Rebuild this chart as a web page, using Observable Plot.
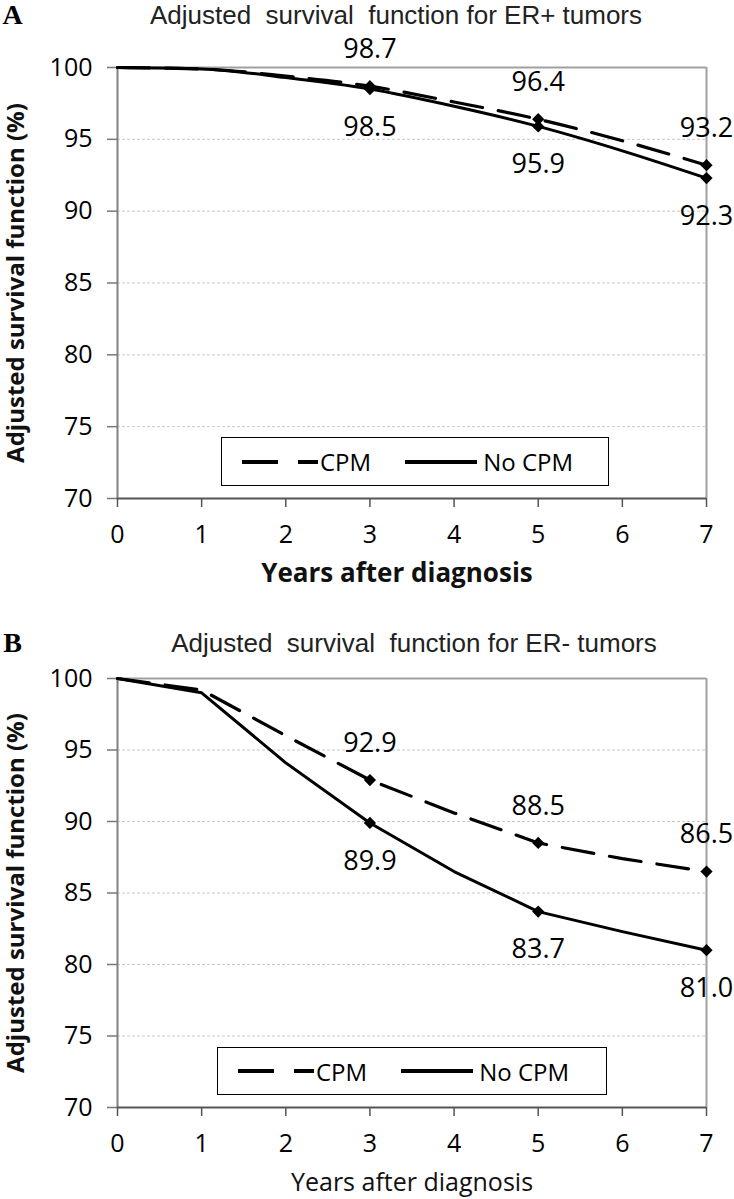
<!DOCTYPE html>
<html>
<head>
<meta charset="utf-8">
<script src="https://cdn.jsdelivr.net/npm/d3@7"></script>
<script src="https://cdn.jsdelivr.net/npm/@observablehq/plot@0.6"></script>
<style>
  html, body { margin: 0; padding: 0; background: #fff; }
  .panel { position: relative; width: 734px; }
  .legend {
    position: absolute; box-sizing: border-box; border: 1.5px solid #000; background: #fff;
    font-family: "Open Sans", sans-serif; font-size: 24px; color: #000;
    display: flex; align-items: center;
  }
  .legend svg { display: block; }
  .legend .item { display: flex; align-items: center; }
</style>
</head>
<body>
<div id="chart"></div>
<script>
// ---------- data ----------
const years = [0, 1, 2, 3, 4, 5, 6, 7];
const markedYears = [3, 5, 7];
const xTicks = [0, 1, 2, 3, 4, 5, 6, 7];
const yTicks = [70, 75, 80, 85, 90, 95, 100];
const gridTicks = [75, 80, 85, 90, 95];
const seriesNames = ["CPM", "No CPM"];

const erPosCPM   = [100, 99.9, 99.4, 98.7, 97.6, 96.4, 94.9, 93.2];
const erPosNoCPM = [100, 99.9, 99.3, 98.5, 97.3, 95.9, 94.2, 92.3];
const erNegCPM   = [100, 99.2, 96.0, 92.9, 90.6, 88.5, 87.4, 86.5];
const erNegNoCPM = [100, 99.0, 94.1, 89.9, 86.5, 83.7, 82.3, 81.0];

const titleA = "Adjusted\u00a0 survival\u00a0 function for ER+ tumors";
const titleB = "Adjusted\u00a0 survival\u00a0 function for ER- tumors";
const yLabel = "Adjusted survival function (%)";
const xLabel = "Years after diagnosis";

// ---------- drawing ----------
const DASH = "32,16";

function rows(vals) { return years.map((yr, i) => ({year: yr, v: vals[i]})); }

function panel(opts) {
  const cpm = rows(opts.cpm), nocpm = rows(opts.nocpm);
  const mk = d => markedYears.includes(d.year);
  const plot = Plot.plot({
    width: 734,
    height: opts.height,
    marginLeft: 117,
    marginRight: 28,
    marginTop: opts.marginTop,
    marginBottom: opts.marginBottom,
    style: {fontFamily: "'Open Sans', sans-serif", fontSize: "25px", color: "#000", background: "#fff", overflow: "visible"},
    x: {domain: [0, 7]},
    y: {domain: [70, 100]},
    marks: [
      Plot.ruleY(gridTicks, {stroke: "#c8c8c8", strokeWidth: 1, strokeDasharray: "3,2"}),
      Plot.ruleY([100], {stroke: "#a0a0a0", strokeWidth: 2}),
      Plot.ruleX([7], {stroke: "#a0a0a0", strokeWidth: 2}),
      Plot.axisY({ticks: yTicks, tickSize: 10, tickPadding: 15, label: null, stroke: "#777", strokeWidth: 1.5, fontSize: 25}),
      Plot.axisX({ticks: xTicks, tickSize: 9, tickPadding: 18, label: null, stroke: "#555", strokeWidth: 1.5, fontSize: 25, tickFormat: d3.format("d")}),
      Plot.ruleX([0], {stroke: "#808080", strokeWidth: 2}),
      Plot.ruleY([70], {stroke: "#555", strokeWidth: 2}),
      Plot.line(nocpm, {x: "year", y: "v", stroke: "#000", strokeWidth: 3, curve: opts.curve}),
      Plot.line(cpm, {x: "year", y: "v", stroke: "#000", strokeWidth: 3.2, strokeDasharray: DASH, curve: opts.curve}),
      Plot.dot(cpm.filter(mk), {x: "year", y: "v", symbol: "diamond2", r: 5.5, fill: "#000"}),
      Plot.dot(nocpm.filter(mk), {x: "year", y: "v", symbol: "diamond2", r: 5.5, fill: "#000"}),
      Plot.text(cpm.filter(mk), {x: "year", y: "v", text: d => d.v.toFixed(1), dy: -37, fontSize: 27, fill: "#000"}),
      Plot.text(nocpm.filter(mk), {x: "year", y: "v", text: d => d.v.toFixed(1), dy: 38, fontSize: 27, fill: "#000"}),
      // titles
      Plot.text([opts.title], {frameAnchor: "top", lineAnchor: "middle", dy: opts.titleDy, dx: opts.titleDx, fontSize: 26, fontFamily: "'Liberation Sans', Arial, sans-serif", fill: "#222"}),
      Plot.text([opts.letter], {frameAnchor: "top-left", lineAnchor: "middle", textAnchor: "middle", dx: -105, dy: opts.titleDy, fontSize: 28, fontWeight: "bold", fontFamily: "'Liberation Serif', 'Times New Roman', serif", fill: "#000"}),
      Plot.text([xLabel], {frameAnchor: "bottom", lineAnchor: "middle", dy: 75, dx: opts.xTitleDx, fontSize: opts.xTitleSize, fontWeight: opts.xTitleWeight, fill: "#111"}),
      Plot.text([yLabel], {frameAnchor: "left", lineAnchor: "middle", textAnchor: "middle", rotate: -90, dx: -101, fontSize: 24, fontWeight: "bold", fill: "#111"})
    ]
  });
  const div = document.createElement("div");
  div.className = "panel";
  div.appendChild(plot);

  const lg = document.createElement("div");
  lg.className = "legend";
  Object.assign(lg.style, {left: opts.legend[0] + "px", top: opts.legend[1] + "px", width: opts.legend[2] + "px", height: opts.legend[3] + "px"});
  lg.innerHTML =
    `<div class="item" style="margin-left:20px"><svg width="76" height="10"><line x1="0" y1="5" x2="76" y2="5" stroke="#000" stroke-width="4" stroke-dasharray="36,20"/></svg><span style="margin-left:2px">${seriesNames[0]}</span></div>` +
    `<div class="item" style="margin-left:34px"><svg width="72" height="10"><line x1="0" y1="5" x2="72" y2="5" stroke="#000" stroke-width="4"/></svg><span style="margin-left:6px">${seriesNames[1]}</span></div>`;
  div.appendChild(lg);
  return div;
}

const root = document.getElementById("chart");
root.appendChild(panel({
  letter: "A", title: titleA, cpm: erPosCPM, nocpm: erPosNoCPM, curve: "monotone-x",
  height: 595, marginTop: 67, marginBottom: 97, titleDy: -52, titleDx: -16,
  xTitleDx: -15, xTitleSize: 26, xTitleWeight: "bold",
  legend: [221, 437, 388, 49]
}));
root.appendChild(panel({
  letter: "B", title: titleB, cpm: erNegCPM, nocpm: erNegNoCPM, curve: "linear",
  height: 604, marginTop: 83, marginBottom: 92, titleDy: -35, titleDx: 2,
  xTitleDx: 0, xTitleSize: 25, xTitleWeight: "normal",
  legend: [217, 452, 390, 48]
}));
</script>
</body>
</html>
